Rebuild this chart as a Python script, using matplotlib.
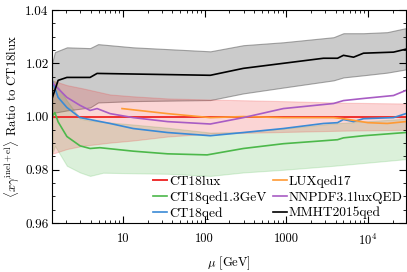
import matplotlib
matplotlib.use("Agg")
import matplotlib.pyplot as plt
import matplotlib.ticker as mticker
import numpy as np

# ---------------------------------------------------------------------------
# Data (ratio to CT18lux vs mu in GeV)
mu_lux = [1.35, 10, 100, 1000, 10000, 29000]
r_lux = [1.0, 1.0, 1.0, 1.0, 1.0, 1.0]
mu_lux_band = [1.35, 2.05, 3.2, 6.9, 13.3, 35, 117, 900, 5000, 29000]
lux_up = [1.0136, 1.0118, 1.0106, 1.0083, 1.0076, 1.0068, 1.0064, 1.0058, 1.0052, 1.0049]
lux_lo = [0.9860, 0.9878, 0.9890, 0.9902, 0.9910, 0.9925, 0.9936, 0.9942, 0.9947, 0.9950]

mu_q13 = [1.38, 1.46, 1.6, 2.05, 2.97, 3.94, 5.2, 13.3, 35, 107, 297, 918, 4230, 5000, 8800, 29000]
r_q13 = [1.0004, 1.0015, 0.9980, 0.9925, 0.9890, 0.9880, 0.9883, 0.9870, 0.9860, 0.9856,
         0.9880, 0.9898, 0.9913, 0.9920, 0.9928, 0.9940]
mu_q13_band = [1.38, 1.46, 2.05, 2.97, 3.94, 5.7, 13.3, 35, 117, 297, 918, 3780, 29000]
q13_up = [1.0136, 1.0130, 1.0060, 0.9992, 0.9985, 0.9980, 0.9970, 0.9958, 0.9940,
          0.9942, 0.9955, 0.9974, 0.9992]
q13_lo = [0.9864, 0.9890, 0.9815, 0.9790, 0.9777, 0.9789, 0.9787, 0.9785, 0.9777,
          0.9790, 0.9800, 0.9815, 0.9840]

mu_qed = [1.35, 1.6, 2.05, 2.97, 6.93, 13.3, 35, 117, 297, 918, 2845, 4230, 5000, 6650, 8800, 20500, 29000]
r_qed = [1.0136, 1.0072, 1.0034, 0.9996, 0.9974, 0.9955, 0.9940, 0.9928, 0.9940, 0.9955,
         0.9974, 0.9977, 0.9989, 0.9981, 0.9992, 0.9996, 1.0011]

mu_lux17 = [9.7, 35, 117, 297, 918, 3780, 5000, 9960, 17200, 29000]
r_lux17 = [1.0030, 1.0011, 0.9996, 1.0000, 0.9996, 0.9996, 0.9992, 0.9977, 0.9974, 0.9981]

mu_nn = [1.38, 2.05, 2.97, 3.94, 4.8, 6.93, 13.3, 35, 117, 297, 918, 3780, 5000, 8800, 20500, 29000]
r_nn = [1.0125, 1.0072, 1.0042, 1.0023, 1.0030, 1.0011, 0.9996, 0.9981, 0.9972, 0.9996,
        1.0030, 1.0049, 1.0060, 1.0068, 1.0079, 1.0098]

mu_mmht = [1.35, 1.6, 2.05, 3.94, 4.8, 117, 297, 918, 2845, 4230, 5000, 6650, 8800, 20500, 29000]
r_mmht = [1.0068, 1.0136, 1.0147, 1.0147, 1.0162, 1.0155, 1.0181, 1.0200, 1.0219, 1.0219,
          1.0230, 1.0223, 1.0238, 1.0242, 1.0253]
mu_mmht_band = [1.35, 1.46, 2.05, 3.94, 4.94, 13.3, 117, 297, 918, 3780, 5000, 8800, 17200, 29000]
mmht_up = [1.0200, 1.0242, 1.0260, 1.0257, 1.0272, 1.0260, 1.0245, 1.0268, 1.0279, 1.0298,
           1.0313, 1.0313, 1.0317, 1.0332]
mmht_lo = [1.0011, 1.0015, 1.0023, 1.0034, 1.0053, 1.0058, 1.0062, 1.0087, 1.0109, 1.0136,
           1.0147, 1.0155, 1.0165, 1.0177]

x_ticks = [10, 100, 1000, 10000]
x_ticklabels = ['10', '100', '1000', r'$10^4$']

# ---------------------------------------------------------------------------
plt.rcParams['font.family'] = 'serif'
plt.rcParams['font.serif'] = ['cmr10', 'DejaVu Serif']
plt.rcParams['mathtext.fontset'] = 'cm'
plt.rcParams['axes.formatter.use_mathtext'] = True
plt.rcParams['font.size'] = 9

c_red = '#ee3030'
c_green = '#4cb84a'
c_blue = '#3a8ad6'
c_orange = '#ff9a33'
c_purple = '#a85cc4'

fig = plt.figure(figsize=(4.07, 2.72), dpi=100)
ax = fig.add_axes([0.128, 0.18, 0.869, 0.783])

# bands
ax.fill_between(mu_mmht_band, mmht_lo, mmht_up, facecolor='#999999', alpha=0.5,
                edgecolor='#555555', linewidth=0.8)
ax.fill_between(mu_q13_band, q13_lo, q13_up, facecolor=c_green, alpha=0.2,
                edgecolor=c_green, linewidth=0.8)
ax.fill_between(mu_lux_band, lux_lo, lux_up, facecolor=c_red, alpha=0.2,
                edgecolor=c_red, linewidth=0.8)

# central lines
ax.plot(mu_lux, r_lux, color=c_red, lw=1.4, label='CT18lux')
ax.plot(mu_q13, r_q13, color=c_green, lw=1.2, label='CT18qed1.3GeV')
ax.plot(mu_qed, r_qed, color=c_blue, lw=1.2, label='CT18qed')
ax.plot(mu_lux17, r_lux17, color=c_orange, lw=1.2, label='LUXqed17')
ax.plot(mu_nn, r_nn, color=c_purple, lw=1.2, label='NNPDF3.1luxQED')
ax.plot(mu_mmht, r_mmht, color='black', lw=1.2, label='MMHT2015qed')

ax.set_xscale('log')
ax.set_xlim(1.35, 2.9e4)
ax.set_ylim(0.96, 1.04)
ax.xaxis.set_major_locator(mticker.FixedLocator(x_ticks))
ax.xaxis.set_major_formatter(mticker.FixedFormatter(x_ticklabels))
ax.xaxis.set_minor_locator(mticker.LogLocator(base=10, subs=np.arange(2, 10), numticks=20))
ax.xaxis.set_minor_formatter(mticker.NullFormatter())
ax.yaxis.set_major_locator(mticker.MultipleLocator(0.02))
ax.yaxis.set_minor_locator(mticker.MultipleLocator(0.005))
ax.yaxis.set_major_formatter(mticker.FormatStrFormatter('%.2f'))
ax.tick_params(which='both', direction='in', top=True, right=True)
ax.tick_params(which='major', length=5, width=0.8)
ax.tick_params(which='minor', length=2.5, width=0.6)
ax.tick_params(axis='x', which='major', pad=7, labelsize=9)
ax.tick_params(axis='y', which='major', pad=2.5, labelsize=9.5)
for s in ax.spines.values():
    s.set_linewidth(0.8)

ax.set_xlabel(r'$\mu$ [GeV]', labelpad=5, fontsize=9)
ax.set_ylabel(r'$\langle x\gamma^{\rm inel+el}\rangle$ Ratio to CT18lux', labelpad=3, fontsize=9.2)

ax.legend(ncol=2, loc='lower right', frameon=False, handlelength=1.0,
          handletextpad=0.15, columnspacing=0.5, labelspacing=0.25,
          borderaxespad=0.15, borderpad=0.1, fontsize=9.7)

fig.savefig('out.png', dpi=100)
